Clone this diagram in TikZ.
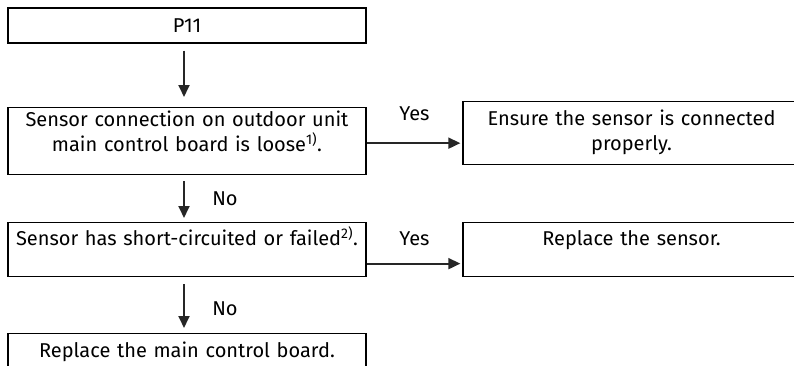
\documentclass[tikz,border=0pt]{standalone}
\usepackage{fontspec}
\setmainfont{Fira Sans}
\usetikzlibrary{positioning, arrows.meta}

\begin{document}
\begin{tikzpicture}[x=1pt, y=1pt,
    box/.style={draw, line width=1.3pt, inner xsep=4pt, inner ysep=0pt,
        align=center, anchor=north, font=\fontsize{20}{25}\selectfont},
    flow/.style={-{Triangle[length=12pt, width=11pt]}, line width=1.8pt, draw=black!85},
    lbl/.style={anchor=base, font=\fontsize{20}{25}\selectfont}]
    \useasboundingbox (0,0) rectangle (794,365);
    \clip (0,0) rectangle (794,365);

    % Boxes
    \node[box, text width=350pt, minimum height=35pt, anchor=center] (p11) at (187,339.5) {P11};
    \node[box, text width=350pt, text height=19pt, text depth=48pt] (q1) at (187,258)
        {Sensor connection on outdoor unit\\main control board is loose\textsuperscript{1)}.};
    \node[box, text width=329pt, text height=23.5pt, text depth=39.5pt] (a1) at (631.5,264)
        {Ensure the sensor is connected\\properly.};
    \node[box, text width=350pt, text height=23pt, text depth=31pt] (q2) at (187,143)
        {Sensor has short-circuited or failed\textsuperscript{2)}.};
    \node[box, text width=329pt, text height=23pt, text depth=31pt] (a2) at (631.5,143)
        {Replace the sensor.};
    \node[box, text width=350pt, text height=24pt, text depth=20pt] (q3) at (187,32)
        {Replace the main control board.};

    % Connectors
    \draw[flow, shorten <=7pt, shorten >=10pt] ([xshift=-3pt]p11.south) -- ([xshift=-3pt]q1.north);
    \draw[flow, shorten <=6pt, shorten >=4pt] ([xshift=-3pt]q1.south) -- ([xshift=-3pt]q2.north);
    \draw[flow, shorten <=7pt, shorten >=5pt] ([xshift=-3pt]q2.south) -- ([xshift=-3pt]q3.north);
    \draw[flow, shorten >=2pt] ([yshift=-2pt]q1.east) -- ([yshift=-2pt]q1.east -| a1.west);
    \draw[flow, shorten >=2pt] ([yshift=-14pt]q2.east) -- ([yshift=-14pt]q2.east -| a2.west);

    % Labels
    \node[lbl] (yes1) at (414.5,244.3) {Yes};
    \node[lbl] (yes2) at (414.5,120) {Yes};
    \node[lbl] (no1) at (225,160) {No};
    \node[lbl] (no2) at (225,50) {No};
\end{tikzpicture}
\end{document}
